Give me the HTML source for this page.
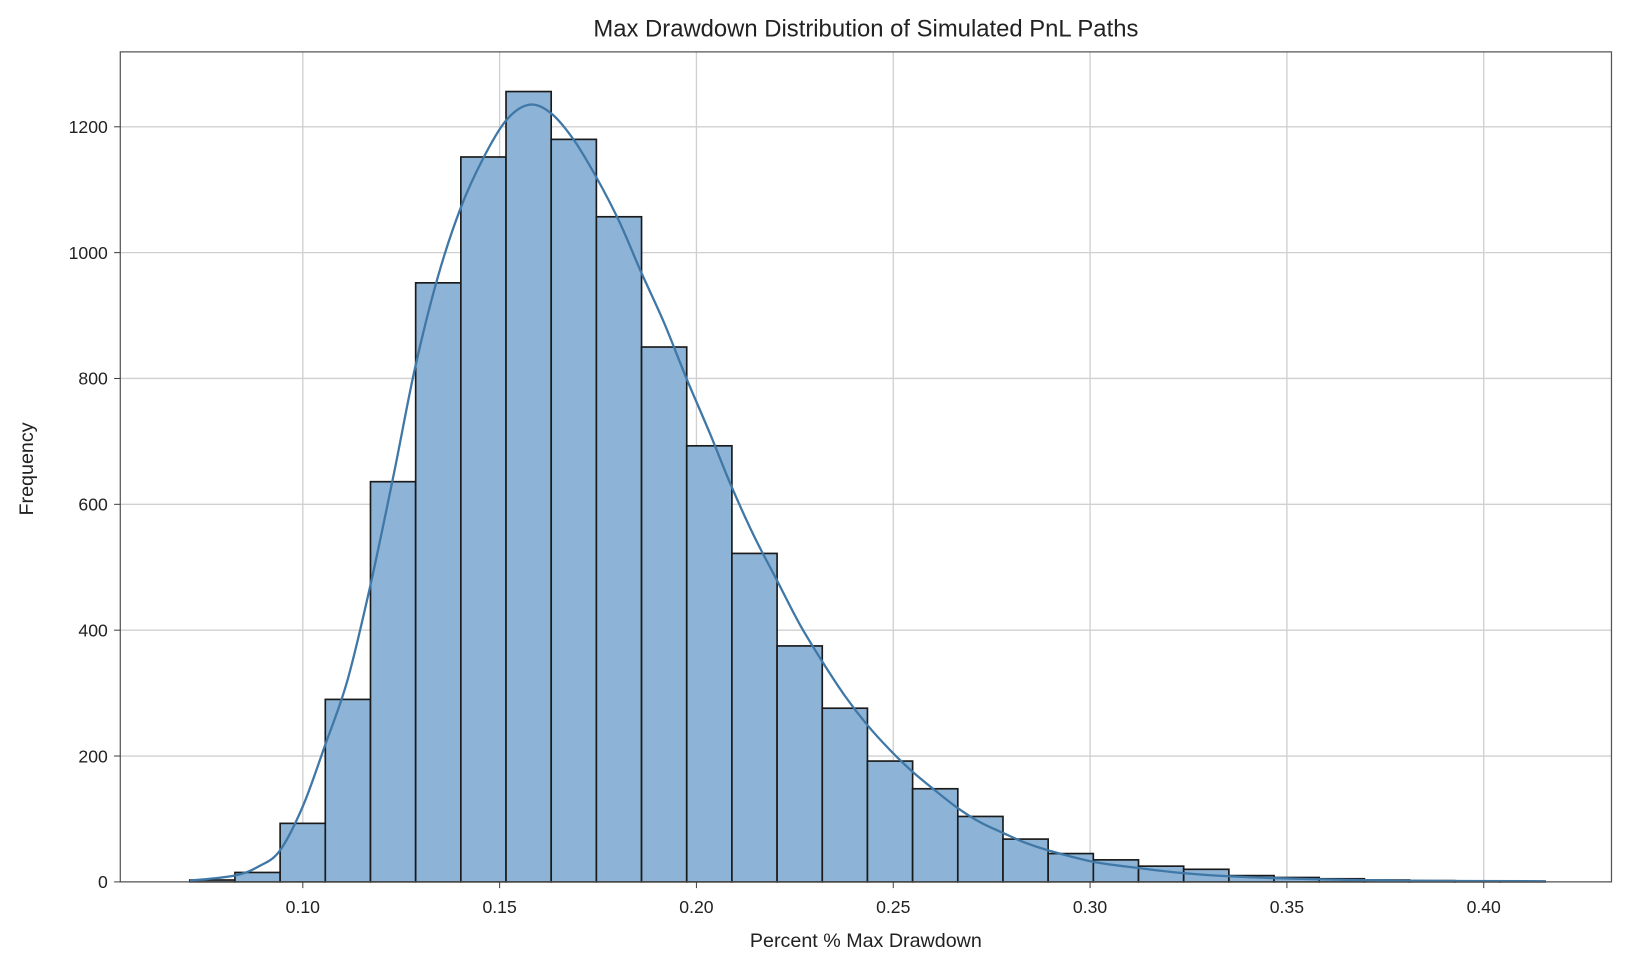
<!DOCTYPE html>
<html><head><meta charset="utf-8">
<style>
html,body{margin:0;padding:0;background:#fff;}
svg{display:block;}
text{font-family:"Liberation Sans","DejaVu Sans",sans-serif;fill:#222;}
</style></head>
<body>
<svg id="c" width="1626" height="968" viewBox="0 0 1568 933" preserveAspectRatio="none" xmlns="http://www.w3.org/2000/svg">
<rect x="0" y="0" width="1568" height="933" fill="#fff"/>
<g id="grid"></g>
<g id="bars"></g>
<path id="kde" fill="none" stroke="#3f77a6" stroke-width="2.2"/>
<rect x="116" y="50" width="1438" height="800" fill="none" stroke="#555" stroke-width="1.2"/>
<g id="ticks"></g>
<text x="835" y="35" font-size="23" text-anchor="middle">Max Drawdown Distribution of Simulated PnL Paths</text>
<text x="835" y="913" font-size="19" text-anchor="middle">Percent % Max Drawdown</text>
<text x="0" y="0" font-size="19" text-anchor="middle" transform="translate(32,452) rotate(-90)">Frequency</text>
</svg>
<script>
const NS="http://www.w3.org/2000/svg";
function el(t,a,p){const e=document.createElementNS(NS,t);for(const k in a)e.setAttribute(k,a[k]);document.getElementById(p).appendChild(e);return e;}
const y0=850,k=121.3/200;
const Y=c=>y0-c*k;
for(let v=0;v<=1200;v+=200){const y=Y(v);
 el('line',{x1:116,x2:1554,y1:y,y2:y,stroke:'#d0d0d0','stroke-width':1.3},'grid');
 el('line',{x1:110,x2:116,y1:y,y2:y,stroke:'#444'},'ticks');
 const t=el('text',{x:104,y:y+6,'font-size':17,'text-anchor':'end'},'ticks');t.textContent=v;}
const xs=[0.10,0.15,0.20,0.25,0.30,0.35,0.40];
xs.forEach((v,i)=>{const x=292+i*189.8;
 el('line',{x1:x,x2:x,y1:50,y2:850,stroke:'#d0d0d0','stroke-width':1.3},'grid');
 el('line',{x1:x,x2:x,y1:850,y2:856,stroke:'#444'},'ticks');
 const t=el('text',{x:x,y:880,'font-size':17,'text-anchor':'middle'},'ticks');t.textContent=v.toFixed(2);});
const h=[3,15,93,290,636,952,1152,1256,1180,1057,850,693,522,375,276,192,148,104,68,45,35,25,20,10,7,5,3,2,1,1];
const x0=183,w=1307/30;
h.forEach((c,i)=>{el('rect',{x:x0+i*w,y:Y(c),width:w,height:c*k,fill:'#8db3d6',stroke:'#1a1a1a','stroke-width':1.6},'bars');});
const p=[[183,2],[226,10],[250,25],[270,50],[292,120],[313,215],[335,320],[357,470],[380,650],[400,815],[422,960],[444,1070],[466,1150],[488,1210],[510,1235],[531,1222],[553,1180],[575,1120],[597,1050],[618,970],[640,890],[662,800],[684,715],[705,630],[727,550],[749,480],[771,410],[793,350],[815,295],[836,250],[858,210],[880,175],[902,145],[923,118],[945,95],[967,78],[989,62],[1011,50],[1054,32],[1098,22],[1141,14],[1185,9],[1250,5],[1350,2],[1490,1]].map(q=>[q[0],Y(q[1])]);
let d='M'+p[0][0]+','+p[0][1];
for(let i=0;i<p.length-1;i++){const a=p[Math.max(0,i-1)],b=p[i],c=p[i+1],e=p[Math.min(p.length-1,i+2)];
 d+=` C${b[0]+(c[0]-a[0])/6},${b[1]+(c[1]-a[1])/6} ${c[0]-(e[0]-b[0])/6},${c[1]-(e[1]-b[1])/6} ${c[0]},${c[1]}`;}
document.getElementById('kde').setAttribute('d',d);
</script>
</body></html>
